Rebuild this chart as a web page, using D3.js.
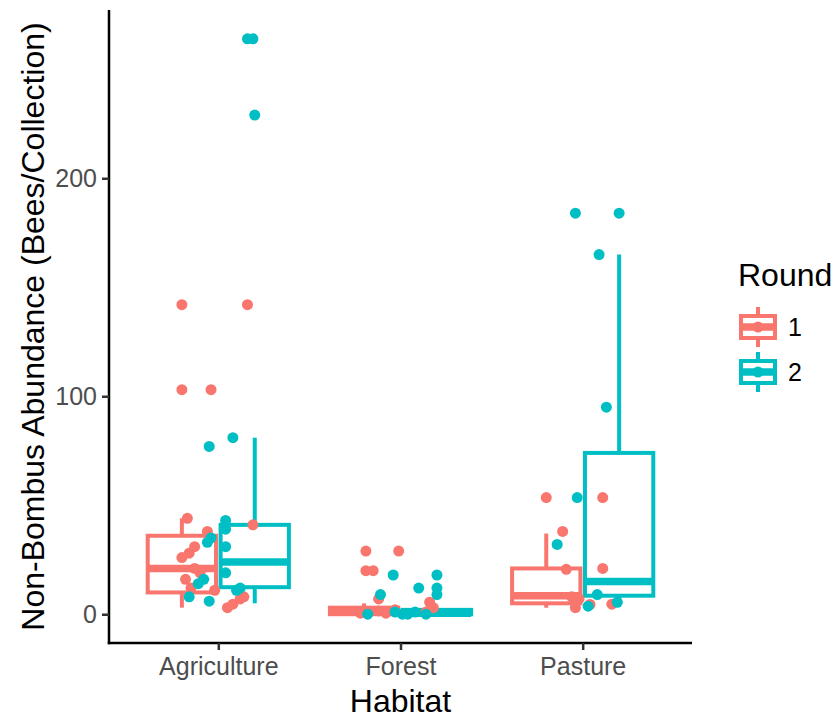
<!DOCTYPE html>
<html>
<head>
<meta charset="utf-8">
<script src="https://cdn.jsdelivr.net/npm/d3@7"></script>
<style>
  body { margin: 0; background: #fff; }
  text { font-family: "Liberation Sans", Arial, sans-serif; }
</style>
</head>
<body>
<div id="chart"></div>
<script>
// categories and groups
var habitats = ["Agriculture", "Forest", "Pasture"];
var rounds = ["1", "2"];
var yTicks = [0, 100, 200];

// boxplot stats per habitat: [lower whisker, Q1, median, Q3, upper whisker]
var boxRound1 = [[3, 10, 21, 36, 44], [0, 0, 1, 3, 5], [3, 5, 8.5, 21, 37]];
var boxRound2 = [[5, 12.4, 24, 41, 81], [0, 0, 0.5, 2, 3], [4, 8.5, 15, 74, 165]];

// jittered points: [jitter (habitat units), bees per collection]
var agriRound1 = [[-0.20, 142], [0.16, 142], [-0.20, 103], [-0.04, 103], [-0.17, 44], [0.19, 41],
  [-0.06, 38], [-0.13, 31], [-0.16, 28], [-0.20, 26], [-0.13, 21], [-0.10, 19], [-0.18, 16],
  [-0.15, 12], [-0.02, 11], [0.05, 3], [0.08, 4.6], [0.12, 7], [0.14, 8]];
var agriRound2 = [[0.16, 264], [0.19, 264], [0.20, 229], [0.08, 81], [-0.05, 77], [0.04, 43],
  [0.04, 39], [-0.04, 35], [-0.06, 33], [0.04, 31], [0.04, 19], [-0.08, 16], [-0.11, 14],
  [-0.16, 8], [-0.05, 6], [0.10, 11], [0.12, 12]];
var forestRound1 = [[-0.19, 29], [-0.01, 29], [-0.19, 20], [-0.15, 20], [-0.12, 7], [0.16, 5.5],
  [-0.12, 1.5], [-0.08, 0.5], [-0.03, 2], [0.14, 1], [0.18, 3], [-0.22, 0.5]];
var forestRound2 = [[-0.04, 18], [0.20, 18], [0.10, 12], [0.20, 12], [0.20, 9], [-0.11, 9],
  [-0.18, 0], [0.04, 0], [0.08, 1], [0.14, 0], [-0.03, 1], [0.01, 0]];
var pastureRound1 = [[-0.20, 53.5], [0.11, 53.5], [-0.11, 38], [-0.09, 20.6], [0.11, 21],
  [-0.06, 8], [-0.02, 7], [-0.04, 3], [0.04, 4.5], [0.16, 4.6]];
var pastureRound2 = [[-0.04, 184], [0.20, 184], [0.09, 165], [0.13, 95], [-0.03, 53.5],
  [-0.14, 32], [0.08, 9], [0.03, 3.7], [0.19, 5.5]];

var colors = ["#F8766D", "#00BFC4"];

var width = 835, height = 721;
var svg = d3.select("#chart").append("svg")
    .attr("width", width)
    .attr("height", height);

// panel extents
var panel = { left: 109, right: 692, top: 10, bottom: 643 };

var x = d3.scalePoint()
    .domain(habitats)
    .range([panel.left, panel.right])
    .padding(0.6);
var step = x.step();

var y = d3.scaleLinear()
    .domain([-13.2, 277.2])
    .range([panel.bottom, panel.top]);

var colour = d3.scaleOrdinal().domain(rounds).range(colors);

// dodge: each box 0.375 wide, centres at -0.2 / +0.2
var dodge = [-0.2, 0.2];
var boxW = 0.375 * step;

// boxes
var boxes = [];
habitats.forEach(function (h, i) {
    boxes.push({ habitat: h, round: "1", s: boxRound1[i] });
    boxes.push({ habitat: h, round: "2", s: boxRound2[i] });
});

var bg = svg.append("g");
boxes.forEach(function (b) {
    var cx = x(b.habitat) + dodge[rounds.indexOf(b.round)] * step;
    var c = colour(b.round);
    var g = bg.append("g").attr("stroke", c).attr("stroke-width", 4);
    g.append("line")
        .attr("x1", cx).attr("x2", cx)
        .attr("y1", y(b.s[3])).attr("y2", y(b.s[4]));
    g.append("line")
        .attr("x1", cx).attr("x2", cx)
        .attr("y1", y(b.s[1])).attr("y2", y(b.s[0]));
    g.append("rect")
        .attr("x", cx - boxW / 2)
        .attr("y", y(b.s[3]))
        .attr("width", boxW)
        .attr("height", Math.max(0.1, y(b.s[1]) - y(b.s[3])))
        .attr("fill", "white");
    g.append("line")
        .attr("x1", cx - boxW / 2).attr("x2", cx + boxW / 2)
        .attr("y1", y(b.s[2])).attr("y2", y(b.s[2]))
        .attr("stroke-width", 7.5);
});

// points
var pointSets = [
    ["Agriculture", "1", agriRound1], ["Agriculture", "2", agriRound2],
    ["Forest", "1", forestRound1], ["Forest", "2", forestRound2],
    ["Pasture", "1", pastureRound1], ["Pasture", "2", pastureRound2]
];
var pts = [];
pointSets.forEach(function (p) {
    p[2].forEach(function (d) {
        pts.push({ habitat: p[0], round: p[1], jit: d[0], value: d[1] });
    });
});

svg.append("g")
    .selectAll("circle")
    .data(pts)
    .enter()
    .append("circle")
    .attr("cx", function (d) { return x(d.habitat) + d.jit * step; })
    .attr("cy", function (d) { return y(d.value); })
    .attr("r", 5.5)
    .attr("fill", function (d) { return colour(d.round); });

// axes
var yAxis = svg.append("g")
    .attr("transform", "translate(" + panel.left + ",0)")
    .call(d3.axisLeft(y).tickValues(yTicks).tickSize(7).tickSizeOuter(0).tickPadding(5));
var xAxis = svg.append("g")
    .attr("transform", "translate(0," + panel.bottom + ")")
    .call(d3.axisBottom(x).tickSize(7).tickSizeOuter(0).tickPadding(7));

[xAxis, yAxis].forEach(function (a) {
    a.select(".domain").attr("stroke", "black").attr("stroke-width", 2.5);
    a.selectAll(".tick line").attr("stroke", "#333").attr("stroke-width", 2.5);
    a.selectAll(".tick text")
        .attr("font-size", 25)
        .attr("fill", "#4D4D4D")
        .style("font-family", "'Liberation Sans', Arial, sans-serif");
});
// extend axis lines to meet at the corner
yAxis.select(".domain").attr("d", "M0," + panel.top + "V" + (panel.bottom + 1.25));
xAxis.select(".domain").attr("d", "M" + (panel.left - 1.25) + ",0H" + panel.right);

// axis titles
svg.append("text")
    .attr("x", (panel.left + panel.right) / 2)
    .attr("y", 712)
    .attr("text-anchor", "middle")
    .attr("font-size", 32)
    .text("Habitat");

svg.append("text")
    .attr("transform", "translate(44," + ((panel.top + panel.bottom) / 2) + ") rotate(-90)")
    .attr("text-anchor", "middle")
    .attr("font-size", 32)
    .text("Non-Bombus Abundance (Bees/Collection)");

// legend
var legend = svg.append("g").attr("transform", "translate(738,0)");
legend.append("text")
    .attr("x", 0)
    .attr("y", 286)
    .attr("font-size", 32)
    .text("Round");

rounds.forEach(function (r, i) {
    var cy = 327 + i * 45, cx = 20;
    var k = legend.append("g").attr("stroke", colour(r)).attr("stroke-width", 4);
    k.append("line").attr("x1", cx).attr("x2", cx).attr("y1", cy - 20).attr("y2", cy - 11);
    k.append("line").attr("x1", cx).attr("x2", cx).attr("y1", cy + 11).attr("y2", cy + 20);
    k.append("rect").attr("x", cx - 17).attr("y", cy - 11).attr("width", 34).attr("height", 22)
        .attr("fill", "white");
    k.append("line").attr("x1", cx - 17).attr("x2", cx + 17).attr("y1", cy).attr("y2", cy)
        .attr("stroke-width", 7.5);
    legend.append("circle").attr("cx", cx).attr("cy", cy).attr("r", 5.5).attr("fill", colour(r));
    legend.append("text")
        .attr("x", 50)
        .attr("y", cy)
        .attr("dy", "0.35em")
        .attr("font-size", 25)
        .attr("fill", "black")
        .text(r);
});
</script>
</body>
</html>
